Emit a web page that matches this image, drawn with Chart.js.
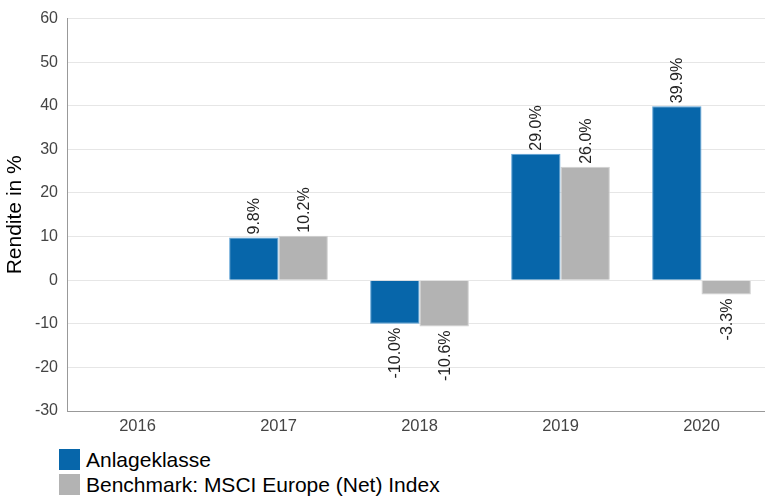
<!DOCTYPE html>
<html>
<head>
<meta charset="utf-8">
<script src="https://cdn.jsdelivr.net/npm/chart.js@4/dist/chart.umd.min.js"></script>
<style>
  html, body { margin: 0; padding: 0; overflow: hidden; background: #fff; }
  #wrap { position: relative; width: 772px; height: 440px; }
  #legend { position: absolute; left: 59px; top: 447px; font-family: Arial, "Liberation Sans", sans-serif; font-size: 21px; color: #000; }
  .item { display: flex; align-items: center; height: 25px; }
  .box { width: 21px; height: 21px; margin-right: 6px; }
</style>
</head>
<body>
<div id="wrap"><canvas id="c" width="772" height="440"></canvas></div>
<div id="legend"></div>
<script>
const categories = ["2016", "2017", "2018", "2019", "2020"];
const anlageklasse = [null, 9.8, -10.0, 29.0, 39.9];
const benchmark = [null, 10.2, -10.6, 26.0, -3.3];
const seriesNames = ["Anlageklasse", "Benchmark: MSCI Europe (Net) Index"];
const seriesColors = ["#0766AA", "#B3B3B3"];
const yTicks = { min: -30, max: 60, step: 10 };

const FONT = 'Arial, "Liberation Sans", sans-serif';

const labelPlugin = {
  id: 'rotLabels',
  afterDatasetsDraw(chart) {
    const ctx = chart.ctx;
    ctx.save();
    ctx.font = '16px ' + FONT;
    ctx.fillStyle = '#222';
    ctx.textBaseline = 'middle';
    chart.data.datasets.forEach((ds, di) => {
      const meta = chart.getDatasetMeta(di);
      meta.data.forEach((el, i) => {
        const v = ds.data[i];
        if (v === null || v === undefined) return;
        const txt = v.toFixed(1) + '%';
        ctx.save();
        if (v >= 0) {
          ctx.translate(el.x, el.y - 3);
          ctx.rotate(-Math.PI / 2);
          ctx.textAlign = 'left';
        } else {
          ctx.translate(el.x, el.y + 4);
          ctx.rotate(-Math.PI / 2);
          ctx.textAlign = 'right';
        }
        ctx.fillText(txt, 0, 1);
        ctx.restore();
      });
    });
    ctx.restore();
  }
};

const chart = new Chart(document.getElementById('c'), {
  type: 'bar',
  data: {
    labels: categories,
    datasets: [
      { label: seriesNames[0], data: anlageklasse, backgroundColor: seriesColors[0], borderColor: '#5FA3D6', borderWidth: 1 },
      { label: seriesNames[1], data: benchmark, backgroundColor: seriesColors[1], borderColor: '#D0D0D0', borderWidth: 1 }
    ]
  },
  options: {
    responsive: false,
    animation: false,
    devicePixelRatio: 1,
    layout: { padding: { top: 17, left: 0, right: 0, bottom: 0 } },
    datasets: { bar: { categoryPercentage: 0.7, barPercentage: 1.0 } },
    plugins: { legend: { display: false }, tooltip: { enabled: false } },
    scales: {
      x: {
        grid: { display: false, drawTicks: false },
        border: { display: true, color: '#999', width: 1 },
        ticks: { font: { family: FONT, size: 16.5 }, color: '#444', padding: 6 },
        afterFit(s) { s.height = 29; }
      },
      y: {
        min: yTicks.min, max: yTicks.max,
        ticks: { stepSize: yTicks.step, font: { family: FONT, size: 16 }, color: '#444', padding: 9 },
        grid: { color: '#E6E6E6', drawTicks: false },
        border: { display: true, color: '#999', width: 1 },
        title: { display: true, text: 'Rendite in %', font: { family: FONT, size: 21 }, color: '#000', padding: { top: 3, bottom: 0 } },
        afterFit(s) { s.width = 67; }
      }
    }
  },
  plugins: [labelPlugin]
});

const leg = document.getElementById('legend');
seriesNames.forEach((n, i) => {
  const d = document.createElement('div');
  d.className = 'item';
  const b = document.createElement('span');
  b.className = 'box';
  b.style.background = seriesColors[i];
  const t = document.createElement('span');
  t.textContent = n;
  d.appendChild(b); d.appendChild(t);
  leg.appendChild(d);
});
</script>
</body>
</html>
